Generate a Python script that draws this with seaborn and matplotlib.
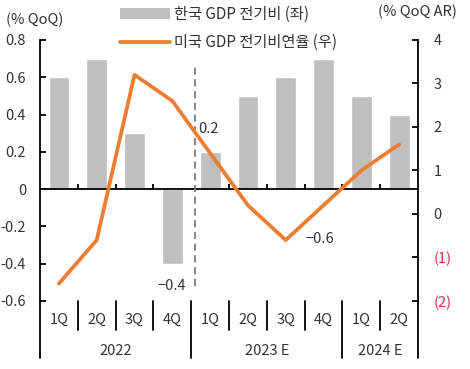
import numpy as np
import pandas as pd
import matplotlib
matplotlib.use("Agg")
import matplotlib.pyplot as plt
import seaborn as sns
from matplotlib.patches import Patch
from matplotlib.lines import Line2D

# Chart data
quarters = ["1Q", "2Q", "3Q", "4Q", "1Q", "2Q", "3Q", "4Q", "1Q", "2Q"]
years = ["2022", "2023 E", "2024 E"]
year_sizes = [4, 4, 2]
korea_qoq = [0.6, 0.7, 0.3, -0.4, 0.2, 0.5, 0.6, 0.7, 0.5, 0.4]
us_qoq_ar = [-1.6, -0.6, 3.2, 2.6, 1.4, 0.2, -0.6, 0.2, 1.0, 1.6]
left_ticks = [0.8, 0.6, 0.4, 0.2, 0, -0.2, -0.4, -0.6]
left_labels = ["0.8", "0.6", "0.4", "0.2", "0", "-0.2", "-0.4", "-0.6"]
right_ticks = [4, 3, 2, 1, 0, -1, -2]
right_labels = ["4", "3", "2", "1", "0", "(1)", "(2)"]
annotations = [(3.68, 0.32, "0.2", "left"), (3.0, -0.517, "\u22120.4", "center"),
               (6.91, -0.27, "\u22120.6", "center")]

df = pd.DataFrame({"pos": range(len(quarters)), "quarter": quarters,
                   "korea": korea_qoq, "us": us_qoq_ar})

sns.set_theme(style="white")
plt.rcParams["font.family"] = ["Noto Sans CJK KR", "DejaVu Sans"]
plt.rcParams["axes.unicode_minus"] = False

text_color = "#333333"
bar_color = "#BFBFBF"
line_color = "#ED7D31"
red = "#D9304F"
fs = 10.5

fig = plt.figure(figsize=(4.7, 3.69), dpi=100)
ax = fig.add_axes([0.0851, 0.1843, 0.8043, 0.7073])
ax2 = ax.twinx()

# Korea bars (left axis)
sns.barplot(data=df, x="pos", y="korea", color=bar_color, saturation=1,
            width=0.55, errorbar=None, ax=ax, zorder=2)
ax.set_xlim(-0.5, len(quarters) - 0.5)
ax.set_ylim(-0.6, 0.8)
ax.axhline(0, color="black", lw=1.3, zorder=3)

# US line (right axis)
sns.lineplot(data=df, x="pos", y="us", color=line_color, lw=2.7, ax=ax2,
             legend=False)
ax2.set_ylim(-2, 4)
ax2.set_xlim(-0.5, len(quarters) - 0.5)

for a in (ax, ax2):
    a.set_xlabel("")
    a.set_ylabel("")
    a.set_xticks([])
    a.spines["top"].set_visible(False)
    a.spines["bottom"].set_visible(False)
    a.grid(False)
ax.spines["right"].set_visible(False)
ax2.spines["left"].set_visible(False)
ax.spines["left"].set_color("black")
ax.spines["left"].set_linewidth(1.3)
ax2.spines["right"].set_color("black")
ax2.spines["right"].set_linewidth(1.3)

ax.set_yticks(left_ticks)
ax.set_yticklabels(left_labels)
ax.tick_params(axis="y", direction="in", length=4, width=1.3, color="black",
               pad=10, labelsize=fs, labelcolor=text_color, left=True)
ax2.set_yticks(right_ticks)
ax2.set_yticklabels(right_labels)
ax2.tick_params(axis="y", direction="in", length=4, width=1.3, color="black",
                pad=11, labelsize=fs, labelcolor=text_color, right=True)
for lbl, v in zip(ax2.get_yticklabels(), right_ticks):
    if v < 0:
        lbl.set_color(red)

# small ticks on zero line between quarters
bounds = [b + 0.5 for b in range(len(quarters) - 1) if b != 3]
ax.vlines(bounds, 0, 0.027, color="black", lw=1.3, zorder=3)

# dashed divider between actual and forecast
ax.plot([3.6, 3.6], [-0.52, 0.66], color="#7F7F7F", lw=1.3,
        ls=(0, (4, 2.5)), zorder=3)

# extend side spines below the plot
trans = ax.get_xaxis_transform()
ax.plot([-0.5, -0.5], [0, -0.218], color="black", lw=1.3, transform=trans, clip_on=False)
ax.plot([9.5, 9.5], [0, -0.218], color="black", lw=1.3, transform=trans, clip_on=False)

# category table below
start = 0
year_edges = []
for y, n in zip(years, year_sizes):
    ax.text(start + (n - 1) / 2, -0.19, y, transform=trans, ha="center",
            va="center", fontsize=fs, color=text_color)
    start += n
    year_edges.append(start - 0.5)
for i, q in enumerate(quarters):
    ax.text(i, -0.073, q, transform=trans, ha="center", va="center",
            fontsize=fs, color=text_color)
for b in np.arange(0.5, len(quarters) - 1, 1.0):
    bottom = -0.218 if b in year_edges else -0.111
    ax.plot([b, b], [0, bottom], color="black", lw=1.3, transform=trans,
            clip_on=False)

for x, y, t, ha in annotations:
    ax.text(x, y, t, ha=ha, va="center", fontsize=fs, color=text_color, zorder=5)

fig.text(35 / 470, 1 - 20 / 369, "(% QoQ)", ha="center", va="center",
         fontsize=fs, color=text_color)
fig.text(417 / 470, 1 - 12 / 369, "(% QoQ AR)", ha="center", va="center",
         fontsize=fs, color=text_color)

handles = [Patch(facecolor=bar_color, edgecolor="none"),
           Line2D([0], [0], color=line_color, lw=2.7)]
fig.legend(handles, ["한국 GDP 전기비 (좌)", "미국 GDP 전기비연율 (우)"],
           loc="upper left", bbox_to_anchor=(120 / 470, 0.985), frameon=False,
           fontsize=11, handlelength=3.3, handletextpad=0.25, labelspacing=0.75,
           borderpad=0, borderaxespad=0, labelcolor=text_color)

fig.savefig("out.png", dpi=100)
